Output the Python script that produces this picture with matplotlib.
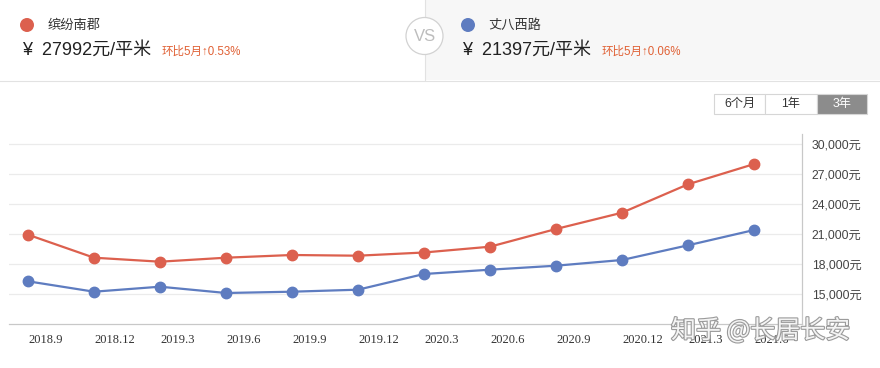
import matplotlib
matplotlib.use("Agg")
import matplotlib.pyplot as plt
import matplotlib.patches as mpatches
import matplotlib.patheffects as pe
from matplotlib.lines import Line2D

plt.rcParams['font.family'] = ['Noto Sans CJK SC', 'DejaVu Sans']
SANS = ['Liberation Sans', 'Noto Sans CJK SC', 'DejaVu Sans']

# ---- data ----
dates = ["2018.9", "2018.12", "2019.3", "2019.6", "2019.9", "2019.12",
         "2020.3", "2020.6", "2020.9", "2020.12", "2021.3", "2021.6"]
name_a = "缤纷南郡"
name_b = "丈八西路"
price_a = [20930, 18630, 18230, 18630, 18900, 18830,
           19150, 19730, 21500, 23130, 25970, 27992]
price_b = [16270, 15230, 15730, 15100, 15230, 15430,
           17000, 17430, 17830, 18400, 19870, 21397]
y_ticks = [15000, 18000, 21000, 24000, 27000, 30000]
y_tick_labels = ["15,000元", "18,000元", "21,000元", "24,000元", "27,000元", "30,000元"]
header_a = ("¥  27992元/平米", "环比5月↑0.53%")
header_b = ("¥  21397元/平米", "环比5月↑0.06%")
buttons = ["6个月", "1年", "3年"]

RED = "#dc604e"
BLUE = "#5e7cc0"
W, H = 880, 368

fig = plt.figure(figsize=(W / 100, H / 100), dpi=100)
fig.patch.set_facecolor("white")


def fx(x):
    return x / W


def fy(y):
    return 1 - y / H


def rect(x0, y0, x1, y1, **kw):
    fig.add_artist(mpatches.Rectangle((fx(x0), fy(y1)), (x1 - x0) / W, (y1 - y0) / H,
                                      transform=fig.transFigure, **kw))


def hline(x0, x1, y, **kw):
    fig.add_artist(Line2D([fx(x0), fx(x1)], [fy(y), fy(y)], transform=fig.transFigure, **kw))


def vline(x, y0, y1, **kw):
    fig.add_artist(Line2D([fx(x), fx(x)], [fy(y0), fy(y1)], transform=fig.transFigure, **kw))


def txt(x, y, s, **kw):
    fig.text(fx(x), fy(y), s, **kw)


def dot(x, y, r, **kw):
    fig.add_artist(mpatches.Ellipse((fx(x), fy(y)), 2 * r / W, 2 * r / H,
                                    transform=fig.transFigure, **kw))


# ---- header ----
rect(425, 0, 880, 80, facecolor="#f7f7f7", edgecolor="none", zorder=0)
vline(425, 0, 80, color="#e2e2e2", lw=0.8)
hline(0, 880, 80.5, color="#e2e2e2", lw=0.8)

dot(27, 25, 7, facecolor=RED, edgecolor="none")
txt(48, 25, name_a, fontsize=9.5, color="#333333", va="center", ha="left")
txt(22, 50, header_a[0], fontsize=13, color="#222222", va="center", ha="left", family=SANS)
txt(162, 52, header_a[1], fontsize=8.3, color="#e06034", va="center", ha="left", family=SANS)

dot(468, 25, 7, facecolor=BLUE, edgecolor="none")
txt(488, 25, name_b, fontsize=9.5, color="#333333", va="center", ha="left")
txt(462, 50, header_b[0], fontsize=13, color="#222222", va="center", ha="left", family=SANS)
txt(602, 52, header_b[1], fontsize=8.3, color="#e06034", va="center", ha="left", family=SANS)

dot(424.5, 36, 18.5, facecolor="white", edgecolor="#d2d2d2", lw=0.9, zorder=3)
txt(425, 36.5, "VS", fontsize=12, color="#bdbdbd", va="center", ha="center",
    family=SANS, zorder=4)

# ---- buttons ----
bx = [714, 765, 817, 867]
by0, by1 = 94, 114
for i, label in enumerate(buttons):
    sel = (i == len(buttons) - 1)
    rect(bx[i], by0, bx[i + 1], by1, facecolor="#8c8c8c" if sel else "white",
         edgecolor="#d6d6d6", lw=0.8, zorder=2)
    txt((bx[i] + bx[i + 1]) / 2, (by0 + by1) / 2, label, fontsize=8.8,
        color="white" if sel else "#333333", va="center", ha="center",
        family=SANS, zorder=3)

# ---- chart ----
ax_l, ax_r, ax_t, ax_b = 9, 802, 134, 324
ax = fig.add_axes([fx(ax_l), fy(ax_b), (ax_r - ax_l) / W, (ax_b - ax_t) / H])
x = list(range(len(dates)))
x0_px, step_px = 28, 66
ax.set_xlim((ax_l - x0_px) / step_px, (ax_r - x0_px) / step_px)
ax.set_ylim(12000, 31000)
ax.set_facecolor("none")

for t in y_ticks:
    ax.axhline(t, color="#ebebeb", lw=0.9, zorder=0)

ax.plot(x, price_a, color=RED, lw=1.6, marker="o", markersize=7.5, zorder=3)
ax.plot(x, price_b, color=BLUE, lw=1.6, marker="o", markersize=7.5, zorder=3)

for s in ["top", "left"]:
    ax.spines[s].set_visible(False)
ax.spines["right"].set_color("#c8c8c8")
ax.spines["bottom"].set_color("#c8c8c8")
ax.spines["right"].set_linewidth(0.9)
ax.spines["bottom"].set_linewidth(0.9)

ax.yaxis.tick_right()
ax.set_yticks(y_ticks)
ax.set_yticklabels(y_tick_labels, fontsize=8.8, color="#444444", family=SANS)
ax.tick_params(axis="y", length=0, pad=7)

ax.set_xticks(x)
ax.set_xticklabels(dates, fontsize=9, color="#333333",
                   family=["Liberation Serif"], ha="left")
ax.tick_params(axis="x", length=0, pad=7)

# ---- watermark ----
wm = fig.text(fx(671), fy(331), "知乎 @长居长安", fontsize=18, color="#f4f4f4",
              va="center", ha="left", zorder=10)
wm.set_path_effects([pe.withStroke(linewidth=1.6, foreground="#9a9a9a")])

fig.savefig("out.png", dpi=100)
